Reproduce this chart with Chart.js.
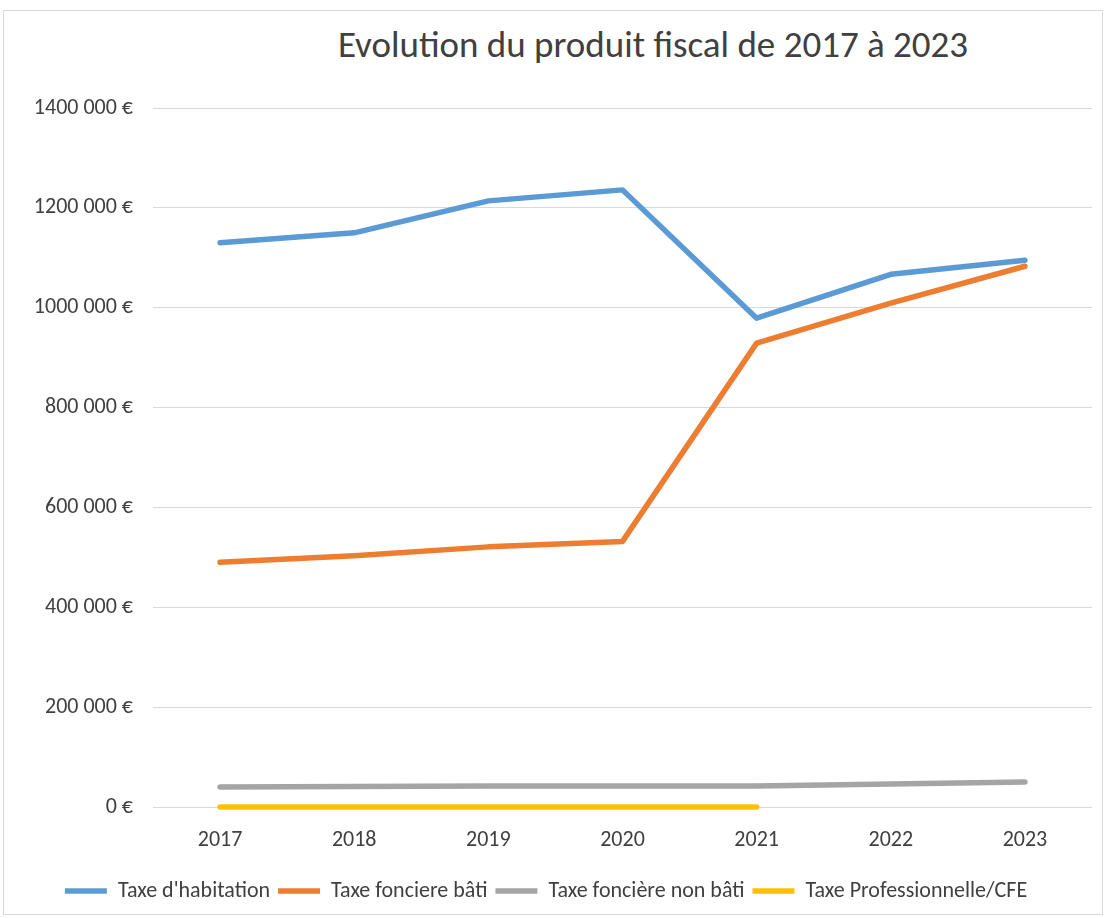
<!DOCTYPE html>
<html>
<head>
<meta charset="utf-8">
<script src="https://cdn.jsdelivr.net/npm/chart.js@4"></script>
<style>
  html, body { margin: 0; padding: 0; background: #fff; }
  #wrap { position: relative; width: 1106px; height: 918px; }
  #frame { position: absolute; left: 3px; top: 10px; width: 1098px; height: 903px; border: 1px solid #d9d9d9; box-sizing: content-box; }
  #title { position: absolute; top: 22px; left: 0; width: 1306px; text-align: center; font-family: Carlito, 'Open Sans', sans-serif; font-size: 37px; color: #404040; line-height: 45px; }
  canvas { position: absolute; left: 0; top: 0; }
</style>
</head>
<body>
<div id="wrap">
  <div id="frame"></div>
  <div id="title">Evolution du produit fiscal de 2017 à 2023</div>
  <canvas id="c" width="1106" height="918"></canvas>
</div>
<script>
const years = ['2017', '2018', '2019', '2020', '2021', '2022', '2023'];
const seriesNames = ["Taxe d'habitation", 'Taxe fonciere bâti', 'Taxe foncière non bâti', 'Taxe Professionnelle/CFE'];
const habitation = [1130000, 1150000, 1214000, 1236000, 979000, 1067000, 1095000];
const foncierBati = [490000, 503000, 521000, 532000, 929000, 1009000, 1083000];
const foncierNonBati = [40000, 41000, 42000, 42000, 42000, 46000, 50000];
const professionnelle = [0, 0, 0, 0, 0, null, null];
const colors = ['#5B9BD5', '#ED7D31', '#A5A5A5', '#FFC000'];

const FONT = "Carlito, 'Open Sans', sans-serif";

function fmt(v) {
  if (v === 0) return '0 €';
  const th = Math.floor(v / 1000);
  const rest = String(v % 1000).padStart(3, '0');
  return th + ' ' + rest + ' €';
}

const data = [habitation, foncierBati, foncierNonBati, professionnelle];

new Chart(document.getElementById('c'), {
  type: 'line',
  data: {
    labels: years,
    datasets: data.map((d, i) => ({
      label: seriesNames[i],
      data: d,
      borderColor: colors[i],
      backgroundColor: colors[i],
      borderWidth: 5.5,
      pointRadius: 0,
      pointHoverRadius: 0,
      tension: 0,
      borderCapStyle: 'round',
      borderJoinStyle: 'round',
      fill: false,
      spanGaps: false,
      clip: false
    }))
  },
  options: {
    responsive: false,
    animation: false,
    devicePixelRatio: 1,
    layout: { padding: { top: 108, right: 14, bottom: 6, left: 0 } },
    plugins: {
      title: { display: false },
      tooltip: { enabled: false },
      legend: {
        position: 'bottom',
        labels: {
          usePointStyle: true,
          pointStyle: 'line',
          pointStyleWidth: 42,
          boxHeight: 5,
          padding: 8,
          color: '#404040',
          font: { family: FONT, size: 22 }
        }
      }
    },
    scales: {
      x: {
        offset: true,
        afterFit: (s) => { s.height = 65; },
        grid: { display: false, drawTicks: false },
        border: { display: false },
        ticks: { color: '#404040', font: { family: FONT, size: 22 }, padding: 20 }
      },
      y: {
        min: 0,
        max: 1400000,
        afterFit: (s) => { s.width = 153; },
        grid: { color: '#d9d9d9', lineWidth: 1, drawTicks: false },
        border: { display: false },
        ticks: {
          stepSize: 200000,
          color: '#404040',
          font: { family: FONT, size: 22 },
          padding: 20,
          callback: (v) => fmt(v)
        }
      }
    }
  }
});
</script>
</body>
</html>
